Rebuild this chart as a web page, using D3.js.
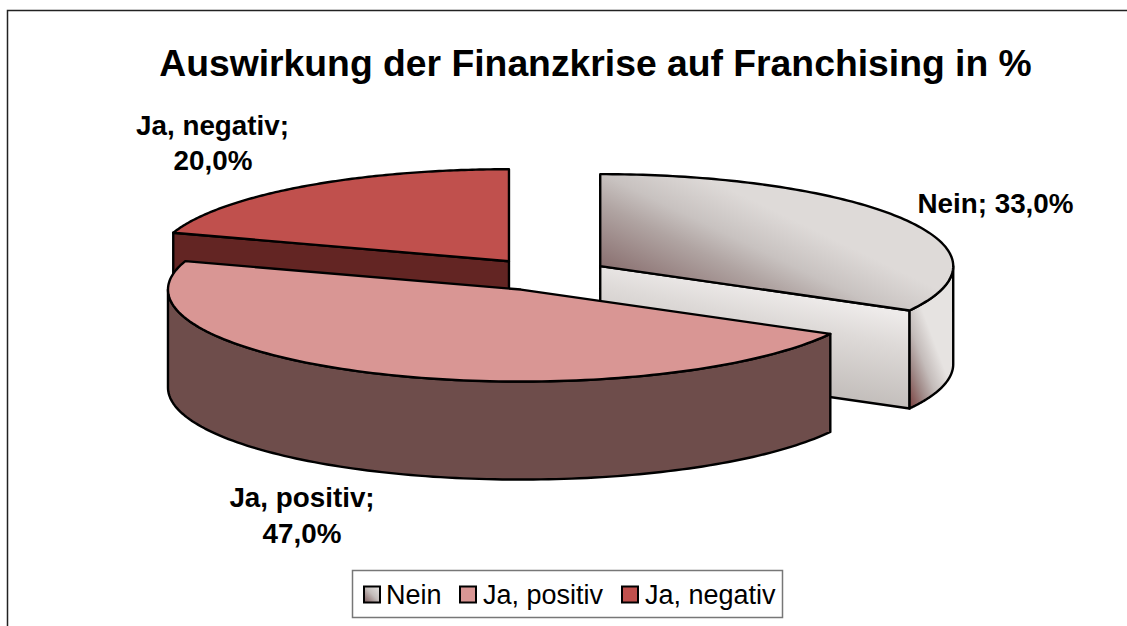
<!DOCTYPE html>
<html lang="de">
<head>
	<meta charset="utf-8">
	<title>Auswirkung der Finanzkrise auf Franchising</title>
	<style>
		html, body { margin: 0; padding: 0; background: #fff; overflow: hidden; }
		svg { display: block; }
		text { font-family: "Liberation Sans", Arial, sans-serif; fill: #000; }
	</style>
</head>
<body>

<script src="https://cdn.jsdelivr.net/npm/d3@7"></script>
<script>
	var titleText = "Auswirkung der Finanzkrise auf Franchising in %";
	var categories = ["Nein", "Ja, positiv", "Ja, negativ"];
	var values = [33.0, 47.0, 20.0];

	var w = 1127;
	var h = 626;

	// Geometrie der 3D-Torte
	var cx = 546, cy = 274.5;
	var rx = 353, ry = 92;
	var depth = 98;
	var explode = 63;

	var xScale = d3.scaleLinear().domain([-1, 1]).range([-rx, rx]);
	var yScale = d3.scaleLinear().domain([-1, 1]).range([-ry, ry]);
	var fmt = function(v){ return v.toFixed(1).replace(".", ","); };

	var svg = d3.select("body").append("svg").attr("width", w).attr("height", h);
	var defs = svg.append("defs");

	function grad(id, x1, y1, x2, y2, stops){
		var g = defs.append("linearGradient").attr("id", id)
			.attr("gradientUnits", "userSpaceOnUse")
			.attr("x1", x1).attr("y1", y1).attr("x2", x2).attr("y2", y2);
		stops.forEach(function(s){
			g.append("stop").attr("offset", s[0]).attr("stop-color", s[1]);
		});
	}
	grad("neinTop", 640, 300, 700, 175, [[0, "#7c5e5e"], [0.1, "#8a7070"], [0.5, "#b0a4a2"], [0.7, "#c8c2c0"], [1, "#dedad8"]]);
	grad("neinFront", 880, 310, 860, 410, [[0, "#eeebea"], [0.3, "#dedad8"], [1, "#bfbab7"]]);
	grad("neinOuter", 905, 385, 945, 370, [[0, "#83504f"], [0.3, "#a08a88"], [0.6, "#c4bcba"], [1, "#e6e3e1"]]);
	grad("neinSwatch", 364, 602, 380, 586, [[0, "#7c5c5c"], [0.5, "#c4bdbb"], [1, "#e8e6e4"]]);

	var topFill = ["url(#neinTop)", "#d99694", "#c0504d"];
	var wallFill = ["url(#neinOuter)", "#6e4d4b", "#632523"];
	var swatchFill = ["url(#neinSwatch)", "#d99694", "#c0504d"];

	var pie = d3.pie().sort(null).value(function(d){ return d; });
	var slices = pie(values);

	var line = d3.line();

	// Winkel (0 = oben, im Uhrzeigersinn) auf die Ellipse abbilden
	function pt(o, a, dz){
		return [o[0] + xScale(Math.sin(a)), o[1] + yScale(-Math.cos(a)) + (dz || 0)];
	}
	function rim(o, a0, a1, dz){
		return d3.range(0, 121).map(function(i){
			return pt(o, a0 + (a1 - a0) * i / 120, dz);
		});
	}
	function origin(s){
		var mid = (s.startAngle + s.endAngle) / 2;
		return [cx + explode * Math.sin(mid), cy - explode * (ry / rx) * Math.cos(mid)];
	}
	function poly(points, fill){
		return gPie.append("path")
			.attr("d", line(points) + "Z")
			.attr("fill", fill)
			.attr("stroke", "#000")
			.attr("stroke-width", 2.4)
			.attr("stroke-linejoin", "round");
	}

	var gPie = svg.append("g");

	// von hinten nach vorne: Ja negativ, Nein, Ja positiv
	[2, 0, 1].forEach(function(i){
		var s = slices[i];
		var o = origin(s);
		var a0 = s.startAngle, a1 = s.endAngle;

		if(i === 2){
			// Schnittflaeche links
			var p = pt(o, a0);
			poly([o, p, [p[0], p[1] + depth], [o[0], o[1] + depth]], wallFill[i]);
		}
		if(i === 0){
			// Schnittflaeche vorne
			var q = pt(o, a1);
			poly([o, q, [q[0], q[1] + depth], [o[0], o[1] + depth]], "url(#neinFront)");
		}
		if(i === 0 || i === 1){
			// Aussenwand: nur der sichtbare Teil (Winkel PI/2 bis 3PI/2)
			var from = Math.max(a0, Math.PI / 2);
			var to = Math.min(a1, Math.PI * 1.5);
			poly(rim(o, from, to).concat(rim(o, to, from, depth)), wallFill[i]);
		}
		poly([o].concat(rim(o, a0, a1)), topFill[i]);
	});

	// Rahmen
	svg.append("path")
		.attr("d", "M7.5," + h + "V10.5H" + w)
		.attr("fill", "none")
		.attr("stroke", "#222")
		.attr("stroke-width", 1.5);

	// Titel
	svg.append("text")
		.attr("x", 595.5)
		.attr("y", 76)
		.attr("text-anchor", "middle")
		.attr("font-size", 37.3)
		.attr("font-weight", "bold")
		.text(titleText);

	// Beschriftungen
	var labelPos = [
		[[995.5, 213]],
		[[302, 507], [302, 542.5]],
		[[212.5, 135], [213, 170]]
	];
	var labelLines = [
		[categories[0] + "; " + fmt(values[0]) + "%"],
		[categories[1] + ";", fmt(values[1]) + "%"],
		[categories[2] + ";", fmt(values[2]) + "%"]
	];
	labelLines.forEach(function(ls, i){
		ls.forEach(function(t, j){
			svg.append("text")
				.attr("x", labelPos[i][j][0])
				.attr("y", labelPos[i][j][1])
				.attr("text-anchor", "middle")
				.attr("font-size", 27.8)
				.attr("font-weight", "bold")
				.text(t);
		});
	});

	// Legende
	svg.append("rect")
		.attr("x", 352.5).attr("y", 570.5)
		.attr("width", 430).attr("height", 47)
		.attr("fill", "#fff")
		.attr("stroke", "#777")
		.attr("stroke-width", 1.5);

	var legendSwatch = [364, 460, 622];
	var legendText = [386, 483, 645];
	categories.forEach(function(c, i){
		svg.append("rect")
			.attr("x", legendSwatch[i]).attr("y", 586.5)
			.attr("width", 16).attr("height", 16)
			.attr("fill", swatchFill[i])
			.attr("stroke", "#000")
			.attr("stroke-width", 2);
		svg.append("text")
			.attr("x", legendText[i])
			.attr("y", 604)
			.attr("font-size", 27)
			.text(c);
	});
</script>
</body>
</html>
